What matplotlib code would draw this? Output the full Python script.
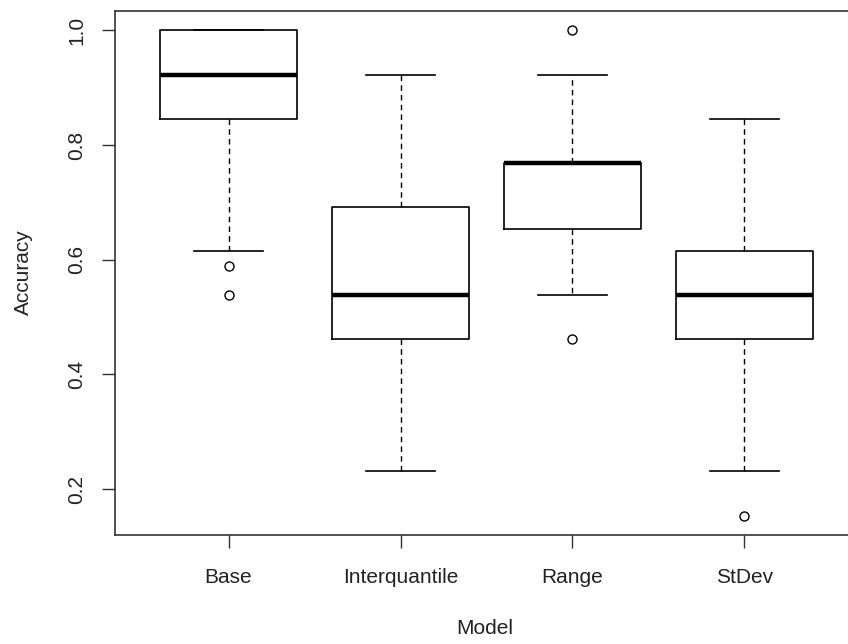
import matplotlib
matplotlib.use("Agg")
import matplotlib.pyplot as plt

plt.rcParams['font.family'] = ['Liberation Sans', 'DejaVu Sans']

models = ["Base", "Interquantile", "Range", "StDev"]
whislo = [0.615, 0.231, 0.538, 0.231]
q1 = [0.846, 0.462, 0.654, 0.462]
med = [0.923, 0.538, 0.769, 0.538]
q3 = [1.0, 0.692, 0.769, 0.615]
whishi = [1.0, 0.923, 0.923, 0.846]
fliers = [[0.590, 0.538], [], [1.0, 0.462], [0.154]]

stats = []
for i, m in enumerate(models):
    stats.append({"label": m, "whislo": whislo[i], "q1": q1[i], "med": med[i],
                  "q3": q3[i], "whishi": whishi[i], "fliers": fliers[i]})

fig = plt.figure(figsize=(8.48, 6.44), dpi=100)
ax = fig.add_axes([115 / 848, 109 / 644, 743 / 848, 524 / 644])

ax.bxp(stats, positions=[1, 2, 3, 4], widths=0.8, showfliers=True,
       boxprops=dict(color="black", linewidth=1.2),
       medianprops=dict(color="black", linewidth=3.2, solid_capstyle="butt"),
       whiskerprops=dict(color="black", linewidth=1, linestyle=(0, (4, 3))),
       capprops=dict(color="black", linewidth=1.2),
       capwidths=0.4,
       flierprops=dict(marker="o", markersize=6.5, markerfacecolor="none",
                       markeredgecolor="black", markeredgewidth=1))

ax.set_xlim(0.34, 4.66)
ax.set_ylim(0.12, 1.034)
ax.set_yticks([0.2, 0.4, 0.6, 0.8, 1.0])
ax.set_yticklabels(["0.2", "0.4", "0.6", "0.8", "1.0"], rotation=90, va="center")
ax.set_xticks([1, 2, 3, 4])
ax.set_xticklabels(models)
ax.tick_params(axis="both", length=9.5, width=1, labelsize=15, color="#333333",
               labelcolor="#222222")
ax.tick_params(axis="x", pad=14)
ax.tick_params(axis="y", pad=11)
for s in ax.spines.values():
    s.set_linewidth(1.2)
    s.set_color("#333333")

fig.text(485 / 848, 1 - 628 / 644, "Model", ha="center", va="center", fontsize=15,
         color="#222222")
fig.text(23 / 848, 1 - 272 / 644, "Accuracy", ha="center", va="center", fontsize=15,
         rotation=90, color="#222222")

fig.savefig("out.png", dpi=100)
